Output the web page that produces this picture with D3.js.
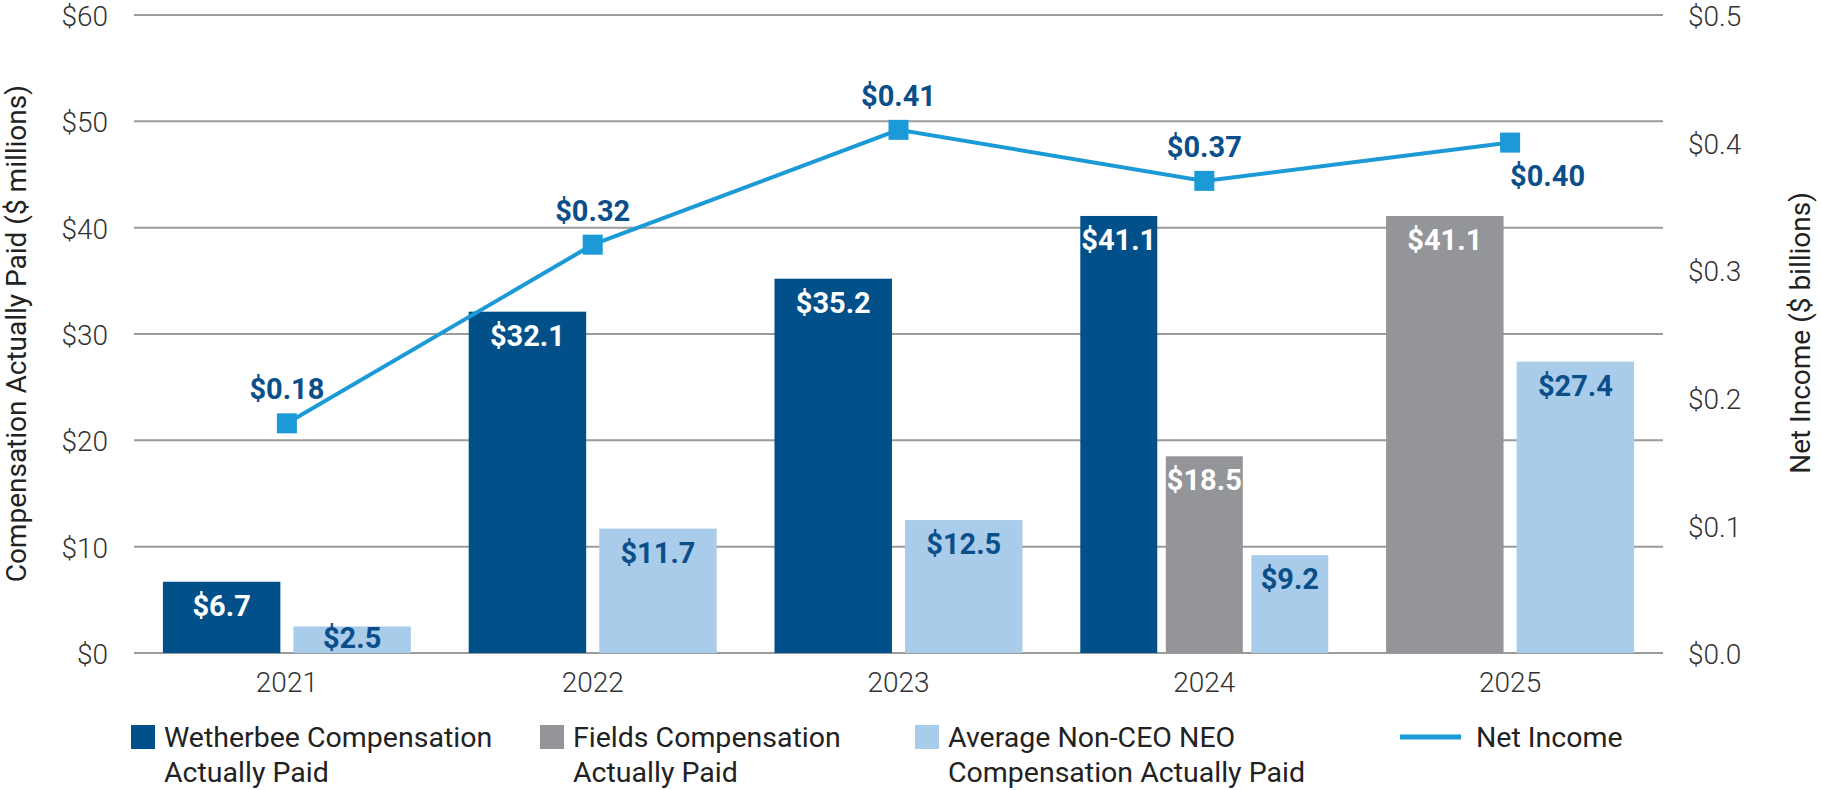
<!DOCTYPE html>
<html>
<head>
<meta charset="utf-8">
<script src="https://cdn.jsdelivr.net/npm/d3@7"></script>
<style>
  html, body { margin: 0; padding: 0; background: #fff; }
  svg { display: block; font-family: Roboto, "Noto Sans", sans-serif; }
</style>
</head>
<body>
<svg id="chart" width="1821" height="790"></svg>
<script>
// ---- data ----
const years = ["2021", "2022", "2023", "2024", "2025"];
const wetherbeeCAP = [6.7, 32.1, 35.2, 41.1, null];
const fieldsCAP = [null, null, null, 18.5, 41.1];
const avgNeoCAP = [2.5, 11.7, 12.5, 9.2, 27.4];
const netIncome = [0.18, 0.32, 0.41, 0.37, 0.40];
const leftTicks = [0, 10, 20, 30, 40, 50, 60];
const rightTicks = [0, 0.1, 0.2, 0.3, 0.4, 0.5];

// ---- styles ----
const C_DARK = "#01508A", C_GRAY = "#939598", C_LIGHT = "#A9CCEA", C_LINE = "#1B9AD7", C_LABEL = "#0B4F8A";
const seriesColors = [C_DARK, C_GRAY, C_LIGHT];
const seriesLabelColors = ["#fff", "#fff", C_LABEL];
const seriesValues = [wetherbeeCAP, fieldsCAP, avgNeoCAP];

const svg = d3.select("#chart");
const L = 134, R = 1663, T = 15, B = 653;

const x = d3.scaleBand().domain(years).range([L, R]).padding(0);
const y = d3.scaleLinear().domain([0, 60]).range([B, T]);
const y2 = d3.scaleLinear().domain([0, 0.5]).range([B, T]);

// gridlines
svg.append("g").selectAll("line").data(leftTicks).join("line")
  .attr("x1", L).attr("x2", R)
  .attr("y1", d => y(d)).attr("y2", d => y(d))
  .attr("stroke", "#9b9b9b").attr("stroke-width", 2);

// left axis
const leftAxis = d3.axisLeft(y).tickValues(leftTicks).tickSize(0).tickPadding(0).tickFormat(d => "$" + d);
const gL = svg.append("g").attr("transform", `translate(108,0)`).call(leftAxis);
gL.select(".domain").remove();
gL.selectAll("text").attr("font-size", 28).attr("font-weight", 300).attr("fill", "#333")
  .attr("font-family", "Roboto").attr("dy", "0.38em");

// right axis
const rightAxis = d3.axisRight(y2).tickValues(rightTicks).tickSize(0).tickPadding(0).tickFormat(d => "$" + d3.format(".1f")(d));
const gR = svg.append("g").attr("transform", `translate(1688,0)`).call(rightAxis);
gR.select(".domain").remove();
gR.selectAll("text").attr("font-size", 28).attr("font-weight", 300).attr("fill", "#333")
  .attr("font-family", "Roboto").attr("dy", "0.38em");

// x axis labels
const xAxis = d3.axisBottom(x).tickSize(0).tickPadding(0);
const gX = svg.append("g").attr("transform", `translate(0,${B})`).call(xAxis);
gX.select(".domain").remove();
gX.selectAll("text").attr("font-size", 28).attr("font-weight", 300).attr("fill", "#333")
  .attr("font-family", "Roboto").attr("dy", null).attr("y", 39);

// axis titles
svg.append("text")
  .attr("transform", `translate(26,85) rotate(-90)`)
  .attr("text-anchor", "end").attr("font-size", 28).attr("fill", "#222")
  .text("Compensation Actually Paid ($ millions)");
svg.append("text")
  .attr("transform", `translate(1810,192) rotate(-90)`)
  .attr("text-anchor", "end").attr("font-size", 28).attr("fill", "#222")
  .text("Net Income ($ billions)");

// bars
const bars = [];
years.forEach((yr, i) => {
  const present = seriesValues.map((arr, s) => s).filter(s => seriesValues[s][i] != null);
  const c = x(yr) + x.bandwidth() / 2;
  const inner = d3.scaleBand().domain(present).range([c - 124, c + 124]).paddingInner(0.1);
  present.forEach(s => bars.push({ yr, s, v: seriesValues[s][i], x: inner(s), w: inner.bandwidth() }));
});

const gBars = svg.append("g");
gBars.selectAll("rect").data(bars).join("rect")
  .attr("x", d => d.x).attr("width", d => d.w)
  .attr("y", d => y(d.v)).attr("height", d => y(0) - y(d.v))
  .attr("fill", d => seriesColors[d.s]);

gBars.selectAll("text").data(bars).join("text")
  .attr("x", d => d.x + d.w / 2)
  .attr("y", d => Math.min(y(d.v) + 34, y(0) - 5))
  .attr("text-anchor", "middle").attr("font-size", 29).attr("font-weight", 700)
  .attr("fill", d => seriesLabelColors[d.s])
  .text(d => "$" + d3.format(".1f")(d.v));

// net income line
const pts = years.map((yr, i) => ({ yr, v: netIncome[i], cx: x(yr) + x.bandwidth() / 2, cy: y2(netIncome[i]), last: i === years.length - 1 }));
svg.append("path")
  .attr("d", d3.line().x(d => d.cx).y(d => d.cy)(pts))
  .attr("fill", "none").attr("stroke", C_LINE).attr("stroke-width", 4);
svg.append("g").selectAll("rect").data(pts).join("rect")
  .attr("x", d => d.cx - 10).attr("y", d => d.cy - 10)
  .attr("width", 20).attr("height", 20).attr("fill", C_LINE);
svg.append("g").selectAll("text").data(pts).join("text")
  .attr("x", d => d.cx)
  .attr("y", d => d.last ? d.cy + 43 : d.cy - 24)
  .attr("text-anchor", d => d.last ? "start" : "middle")
  .attr("font-size", 29).attr("font-weight", 700).attr("fill", C_LABEL)
  .text(d => "$" + d3.format(".2f")(d.v));

// legend
const legendItems = [
  { x: 131, lines: ["Wetherbee Compensation", "Actually Paid"], color: C_DARK, type: "rect" },
  { x: 540, lines: ["Fields Compensation", "Actually Paid"], color: C_GRAY, type: "rect" },
  { x: 915, lines: ["Average Non-CEO NEO", "Compensation Actually Paid"], color: C_LIGHT, type: "rect" },
  { x: 1400, lines: ["Net Income"], color: C_LINE, type: "line" }
];
const gLeg = svg.append("g");
legendItems.forEach(it => {
  const g = gLeg.append("g");
  let tx;
  if (it.type === "rect") {
    g.append("rect").attr("x", it.x).attr("y", 725).attr("width", 24).attr("height", 24).attr("fill", it.color);
    tx = it.x + 33;
  } else {
    g.append("line").attr("x1", it.x).attr("x2", it.x + 61).attr("y1", 737).attr("y2", 737)
      .attr("stroke", it.color).attr("stroke-width", 5);
    tx = it.x + 76;
  }
  it.lines.forEach((ln, k) => {
    g.append("text").attr("x", tx).attr("y", 747 + k * 35)
      .attr("font-size", 28.5).attr("fill", "#222").text(ln);
  });
});
</script>
</body>
</html>
